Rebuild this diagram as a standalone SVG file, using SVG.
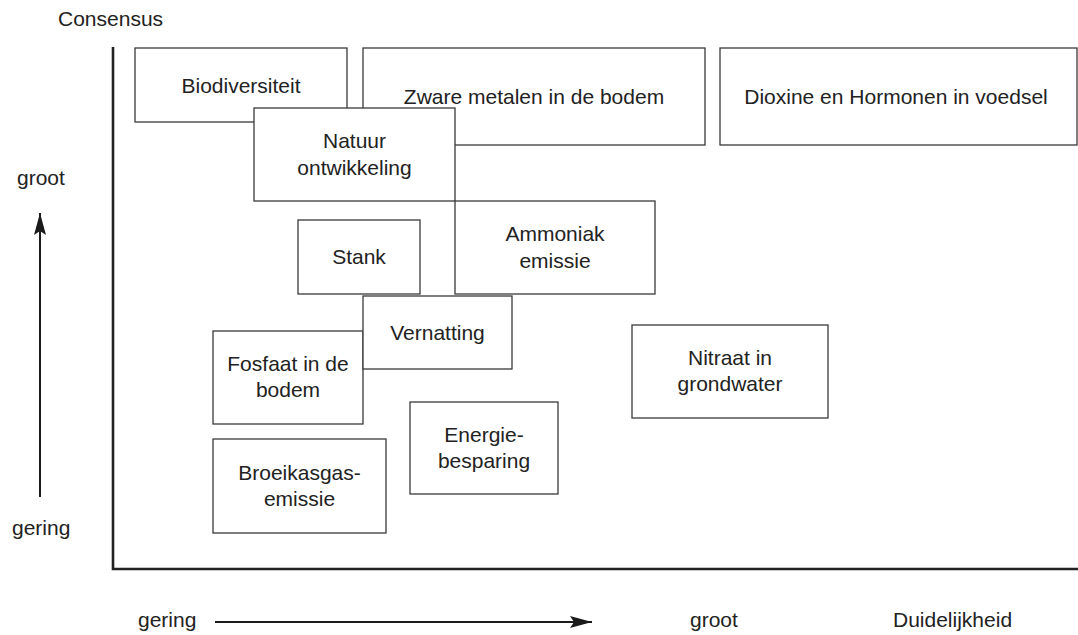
<svg xmlns="http://www.w3.org/2000/svg" width="1078" height="635" viewBox="0 0 1078 635">
<style>
  .box rect { fill: #ffffff; stroke: #3a3a3a; stroke-width: 1.3; }
  text { font-family: "Liberation Sans", Arial, sans-serif; font-size: 21px; fill: #222222; }
  .c { text-anchor: middle; }
  .axis { stroke: #222222; stroke-width: 2.6; fill: none; }
  .arr { stroke: #1a1a1a; stroke-width: 2; fill: none; }
</style>
<defs>
  <marker id="ah" markerWidth="24" markerHeight="12" refX="22" refY="6" orient="auto" markerUnits="userSpaceOnUse">
    <path d="M0,0 L22,6 L0,12 L4,6 Z" fill="#1a1a1a"/>
  </marker>
</defs>
<rect width="1078" height="635" fill="#ffffff"/>

<g id="axes">
  <polyline class="axis" points="113,47 113,569 1078,569"/>
  <text x="58" y="26">Consensus</text>
  <text x="893" y="627">Duidelijkheid</text>
</g>

<g id="connectors">
  <line class="arr" x1="40" y1="497" x2="40" y2="213" marker-end="url(#ah)"/>
  <line class="arr" x1="215" y1="622" x2="592" y2="622" marker-end="url(#ah)"/>
  <text x="17" y="185">groot</text>
  <text x="12" y="535">gering</text>
  <text x="138" y="627">gering</text>
  <text x="690" y="627">groot</text>
</g>

<g id="biodiversiteit" class="box">
  <rect x="135" y="48" width="212" height="74"/>
  <text class="c" x="241" y="92.5">Biodiversiteit</text>
</g>
<g id="zware-metalen" class="box">
  <rect x="363" y="48" width="342" height="97"/>
  <text class="c" x="534" y="104">Zware metalen in de bodem</text>
</g>
<g id="dioxine" class="box">
  <rect x="720" y="48" width="357" height="97"/>
  <text class="c" x="896" y="104">Dioxine en Hormonen in voedsel</text>
</g>
<g id="natuur" class="box">
  <rect x="254" y="108" width="201" height="93"/>
  <text class="c" x="354.5" y="148">Natuur</text>
  <text class="c" x="354.5" y="175">ontwikkeling</text>
</g>
<g id="ammoniak" class="box">
  <rect x="455" y="201" width="200" height="93"/>
  <text class="c" x="555" y="241">Ammoniak</text>
  <text class="c" x="555" y="268">emissie</text>
</g>
<g id="stank" class="box">
  <rect x="298" y="220" width="122" height="74"/>
  <text class="c" x="359" y="264">Stank</text>
</g>
<g id="fosfaat" class="box">
  <rect x="213" y="331" width="150" height="93"/>
  <text class="c" x="288" y="371">Fosfaat in de</text>
  <text class="c" x="288" y="397">bodem</text>
</g>
<g id="vernatting" class="box">
  <rect x="363" y="296" width="149" height="73"/>
  <text class="c" x="437.5" y="340">Vernatting</text>
</g>
<g id="nitraat" class="box">
  <rect x="632" y="325" width="196" height="93"/>
  <text class="c" x="730" y="365">Nitraat in</text>
  <text class="c" x="730" y="391">grondwater</text>
</g>
<g id="energie" class="box">
  <rect x="410" y="402" width="148" height="92"/>
  <text class="c" x="484" y="442">Energie-</text>
  <text class="c" x="484" y="468">besparing</text>
</g>
<g id="broeikas" class="box">
  <rect x="213" y="439" width="173" height="94"/>
  <text class="c" x="299.5" y="480">Broeikasgas-</text>
  <text class="c" x="299.5" y="506">emissie</text>
</g>
</svg>
